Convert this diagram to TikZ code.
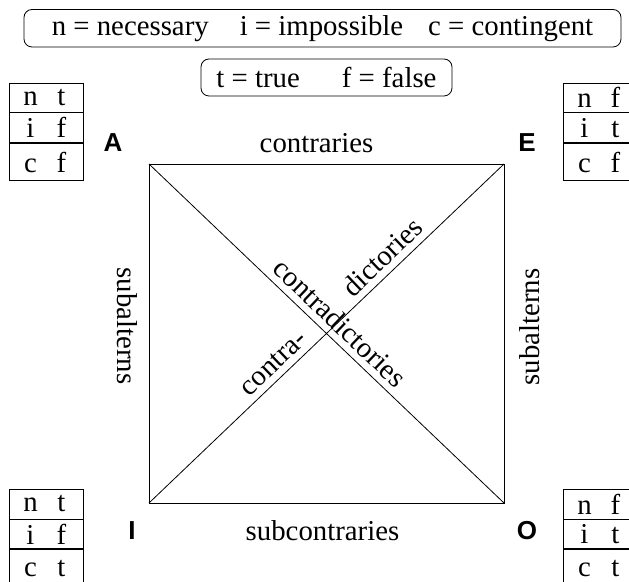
\documentclass[tikz,border=0pt]{standalone}
\usepackage{fontspec}
\setmainfont{Liberation Serif}
\newfontfamily\cornerfont{Liberation Sans}
\usetikzlibrary{positioning}

\newcommand\truthrow[2]{\makebox[15.5pt]{#1}\makebox[15.5pt]{#2}}

\begin{document}
\begin{tikzpicture}[
    x=0.5pt, y=-0.5pt,
    legend/.style={draw, rounded corners=4pt, inner sep=0pt, font=\fontsize{14.4}{16}\selectfont},
    cell/.style={draw, minimum width=37pt, inner sep=0pt, font=\fontsize{14.4}{16}\selectfont},
    vertex/.style={font=\fontsize{13}{15}\selectfont\cornerfont\bfseries},
    rel/.style={font=\fontsize{14.4}{16}\selectfont}
]
    \useasboundingbox (0,0) rectangle (629,582);

    % Legend boxes
    \node [legend, minimum width=298.5pt, minimum height=18.75pt] (modes) at (322.5,28.25)
        {n = necessary\hspace{15.5pt}i = impossible\hspace{12.5pt}c = contingent\hspace{8pt}};
    \node [legend, minimum width=125.5pt, minimum height=18.5pt] (values) at (326.5,77.5)
        {t = true\hspace{21pt}f = false\hspace{6pt}};

    % Corners of the square
    \coordinate (a) at (149,164);
    \coordinate (e) at (504,164);
    \coordinate (i) at (149,503);
    \coordinate (o) at (504,503);

    \draw (a) -- (e) -- (o) -- (i) -- cycle;
    \draw (a) -- (o) node [pos=0.505, sloped, above, rel] {contradictories};
    \draw (i) -- (e) node [pos=0.38, sloped, above, rel] {contra-}
                     node [pos=0.69, sloped, above, rel] {dictories};

    % Relations on the sides
    \node [rel] (contraries) at (316.5,143) {contraries};
    \node [rel] (subcontraries) at (322.5,531) {subcontraries};
    \node [rel, rotate=-90] (subleft) at (127,326) {subalterns};
    \node [rel, rotate=90] (subright) at (530,327) {subalterns};

    % Vertex letters
    \node [vertex] (la) at (113,143) {A};
    \node [vertex] (le) at (527,143) {E};
    \node [vertex] (li) at (132,531) {I};
    \node [vertex] (lo) at (527,531) {O};

    % Truth tables
    \node [cell, minimum height=14.5pt] (ta1) at (46,97.5) {\truthrow nt};
    \node [cell, minimum height=15pt, below=0pt of ta1] (ta2) {\truthrow if};
    \node [cell, minimum height=18.5pt, below=0pt of ta2] (ta3) {\truthrow cf};

    \node [cell, minimum height=14.5pt] (te1) at (600,97.5) {\truthrow nf};
    \node [cell, minimum height=15pt, below=0pt of te1] (te2) {\truthrow it};
    \node [cell, minimum height=18.5pt, below=0pt of te2] (te3) {\truthrow cf};

    \node [cell, minimum height=15pt] (ti1) at (46,504) {\truthrow nt};
    \node [cell, minimum height=14.5pt, below=0pt of ti1] (ti2) {\truthrow if};
    \node [cell, minimum height=18.5pt, below=0pt of ti2] (ti3) {\truthrow ct};

    \node [cell, minimum height=15pt] (to1) at (600,504) {\truthrow nf};
    \node [cell, minimum height=14.5pt, below=0pt of to1] (to2) {\truthrow it};
    \node [cell, minimum height=18.5pt, below=0pt of to2] (to3) {\truthrow ct};
\end{tikzpicture}
\end{document}
